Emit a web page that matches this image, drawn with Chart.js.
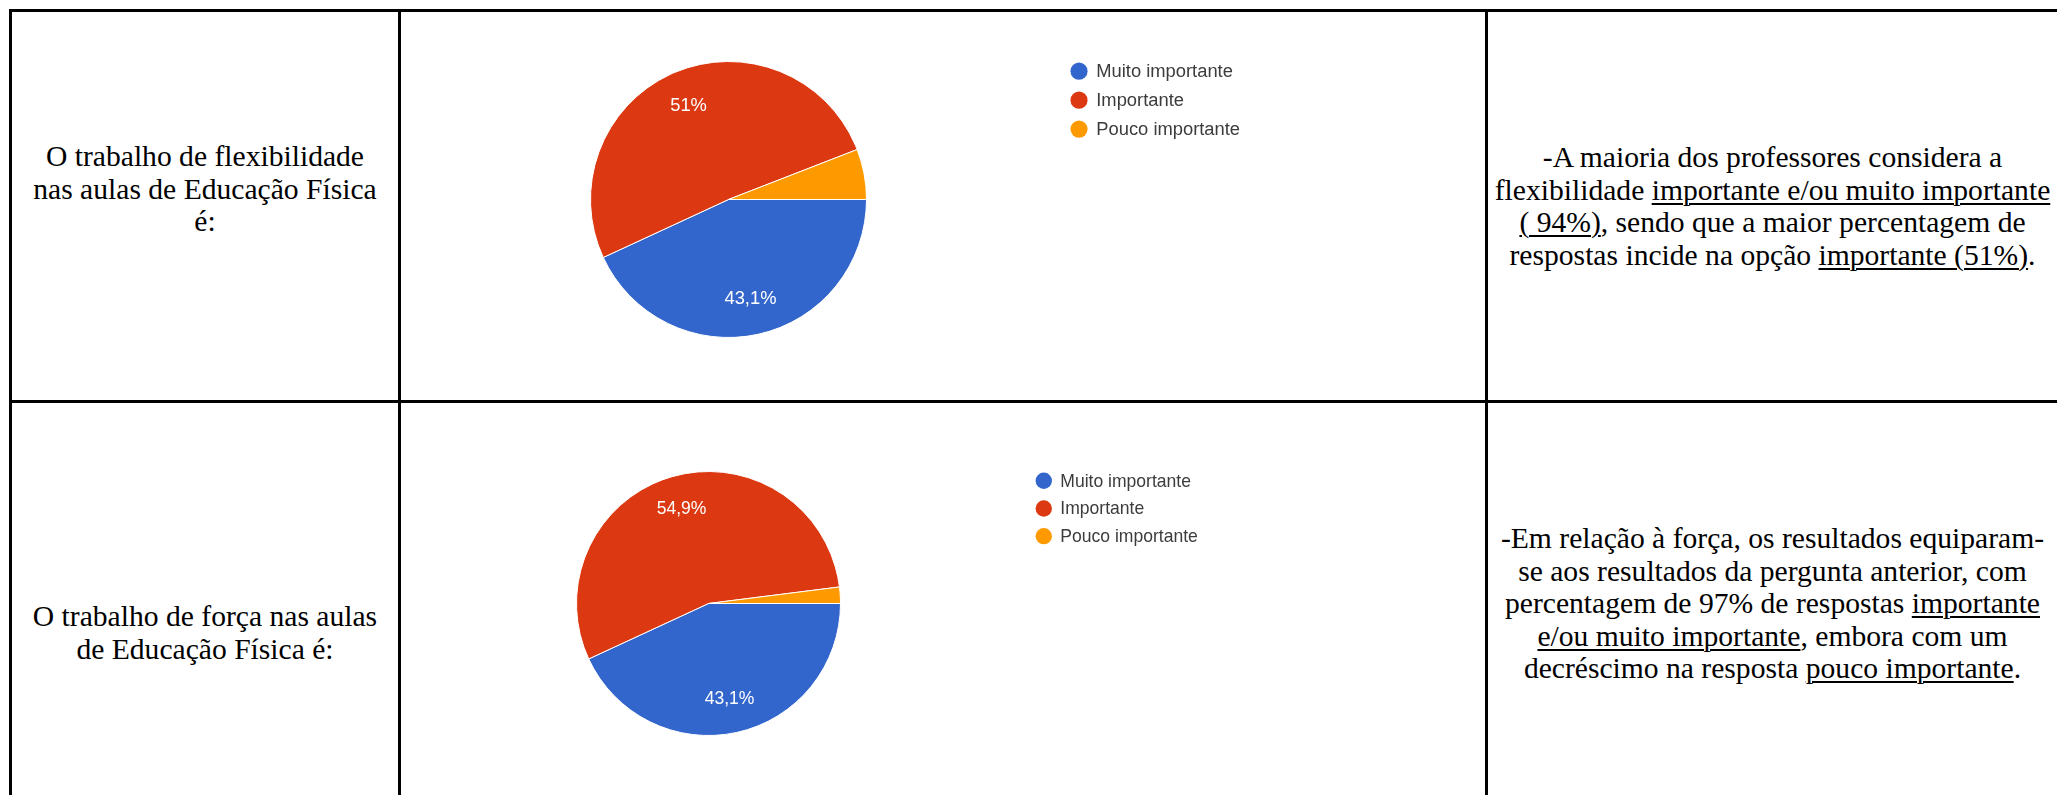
<!DOCTYPE html>
<html lang="pt">
<head>
<meta charset="utf-8">
<title>Flexibilidade e força nas aulas de Educação Física</title>
<script src="https://cdn.jsdelivr.net/npm/chart.js@4.4.1/dist/chart.umd.min.js"></script>
<style>
  html, body { margin:0; padding:0; background:#fff; }
  body { width:2057px; height:795px; position:relative; overflow:hidden; }
  .rule { position:absolute; background:#000; }
  .cell-text {
    position:absolute; text-align:center; white-space:nowrap; color:#000;
    font-family:'Liberation Serif','Times New Roman',serif; font-size:29.6px; line-height:32.5px;
  }
  .cell-text u { text-decoration-thickness:1.5px; text-underline-offset:3px; }
  canvas { position:absolute; }
</style>
</head>
<body>

<!-- table rules -->
<div class="rule" style="left:9px; top:9px; width:2048px; height:3px;"></div>
<div class="rule" style="left:9px; top:400px; width:2048px; height:3px;"></div>
<div class="rule" style="left:9px; top:9px; width:3px; height:786px;"></div>
<div class="rule" style="left:398px; top:9px; width:3px; height:786px;"></div>
<div class="rule" style="left:1485px; top:9px; width:3px; height:786px;"></div>

<!-- row 1 -->
<div class="cell-text" style="left:12px; width:386px; top:140px;">
  O trabalho de flexibilidade<br>nas aulas de Educação Física<br>é:
</div>
<canvas id="chartFlex" width="1082" height="386" style="left:402px; top:12px;"></canvas>
<div class="cell-text" style="left:1488px; width:569px; top:141px;">
  -A maioria dos professores considera a<br>
  flexibilidade <u>importante e/ou muito importante</u><br>
  <u>( 94%)</u>, sendo que a maior percentagem de<br>
  respostas incide na opção <u>importante (51%)</u>.
</div>

<!-- row 2 -->
<div class="cell-text" style="left:12px; width:386px; top:600px;">
  O trabalho de força nas aulas<br>de Educação Física é:
</div>
<canvas id="chartForca" width="1082" height="392" style="left:402px; top:403px;"></canvas>
<div class="cell-text" style="left:1488px; width:569px; top:522px;">
  -Em relação à força, os resultados equiparam-<br>
  se aos resultados da pergunta anterior, com<br>
  percentagem de 97% de respostas <u>importante</u><br>
  <u>e/ou muito importante</u>, embora com um<br>
  decréscimo na resposta <u>pouco importante</u>.
</div>

<script>
/* ── Data ── */
const categories = ['Muito importante', 'Importante', 'Pouco importante'];
const flexValues = [43.1, 51.0, 5.9];   // % flexibilidade
const forcaValues = [43.1, 54.9, 2.0];  // % força
const sliceColors = ['#3366CC', '#DC3912', '#FF9900'];

/* ── Helpers ── */
const fmtPct = v => String(Math.round(v * 10) / 10).replace('.', ',') + '%';

/* ── Slice labels + legend (Google Forms look) ── */
const pieExtras = {
  id: 'pieExtras',
  afterDatasetsDraw(chart) {
    const ctx = chart.ctx;
    const meta = chart.getDatasetMeta(0);
    const ds = chart.data.datasets[0];
    const first = meta.data[0];
    const cx = first.x, cy = first.y, r = first.outerRadius;
    const fontPx = r * 0.133;

    ctx.save();
    ctx.font = `${fontPx}px 'Liberation Sans', Arial, sans-serif`;
    ctx.textAlign = 'center';
    ctx.textBaseline = 'middle';
    ctx.fillStyle = '#fff';
    meta.data.forEach((arc, i) => {
      if (ds.data[i] < 10) return; // tiny slices get no label
      const mid = (arc.startAngle + arc.endAngle) / 2;
      const d = r * 0.74;
      ctx.fillText(fmtPct(ds.data[i]), cx + Math.cos(mid) * d, cy + Math.sin(mid) * d);
    });

    // legend
    const lx = cx + r * 2.54;
    const ly = cy - r * 0.93;
    const step = r * 0.21;
    ctx.textAlign = 'left';
    chart.data.labels.forEach((label, i) => {
      const y = ly + i * step;
      ctx.fillStyle = ds.backgroundColor[i];
      ctx.beginPath();
      ctx.arc(lx, y, r * 0.062, 0, Math.PI * 2);
      ctx.fill();
      ctx.fillStyle = '#3c3c3c';
      ctx.fillText(label, lx + r * 0.125, y + 1);
    });
    ctx.restore();
  }
};

/* ── Pie chart ── */
function drawPie(canvasId, values, padding) {
  const el = document.getElementById(canvasId);
  if (!el || typeof Chart === 'undefined') return;
  new Chart(el, {
    type: 'pie',
    data: {
      labels: categories,
      datasets: [{
        data: values,
        backgroundColor: sliceColors,
        borderColor: '#fff',
        borderWidth: 1,
      }]
    },
    options: {
      responsive: false,
      animation: false,
      rotation: 90,
      layout: { padding },
      plugins: { legend: { display: false }, tooltip: { enabled: false } }
    },
    plugins: [pieExtras]
  });
}

drawPie('chartFlex', flexValues, { left: 188, top: 49, right: 617, bottom: 60 });
drawPie('chartForca', forcaValues, { left: 174, top: 68, right: 643, bottom: 59 });
</script>
</body>
</html>
